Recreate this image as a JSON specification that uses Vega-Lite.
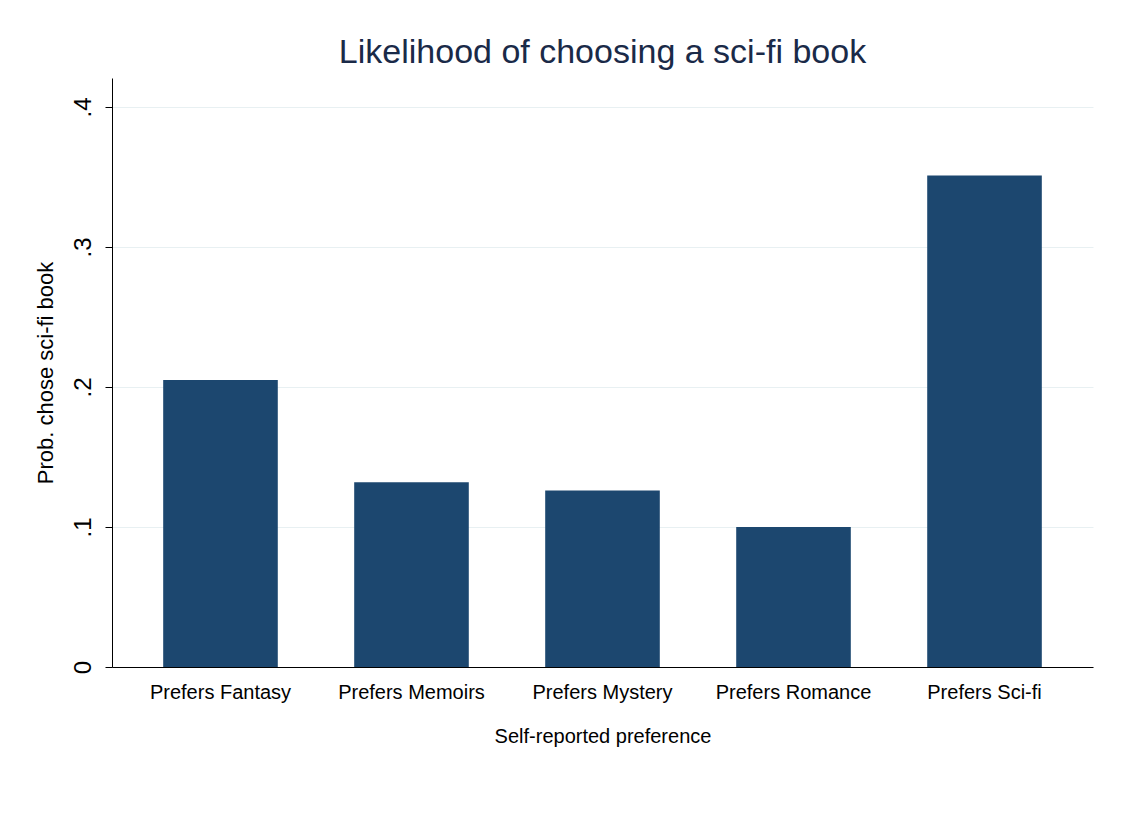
{
  "$schema": "https://vega.github.io/schema/vega-lite/v6.json",
  "autosize": {"type": "none"},
  "padding": {"left": 112, "top": 78, "right": 29, "bottom": 149},
  "width": 981,
  "height": 589,
  "background": "white",
  "title": {"text": "Likelihood of choosing a sci-fi book", "fontSize": 34, "font": "Arial, Liberation Sans", "fontWeight": "normal", "color": "#1a2a48", "offset": 8, "anchor": "middle"},
  "data": {"values": [
    {"pref": "Prefers Fantasy", "p": 0.205},
    {"pref": "Prefers Memoirs", "p": 0.132},
    {"pref": "Prefers Mystery", "p": 0.126},
    {"pref": "Prefers Romance", "p": 0.100},
    {"pref": "Prefers Sci-fi", "p": 0.351}
  ]},
  "mark": {"type": "bar", "color": "#1c476f"},
  "encoding": {
    "x": {"field": "pref", "type": "nominal", "title": "Self-reported preference",
      "scale": {"paddingInner": 0.4, "paddingOuter": 0.268},
      "axis": {"labelAngle": 0, "labelFontSize": 20, "titleFontSize": 20, "labelPadding": 15, "titlePadding": 24, "tickSize": 0, "domainColor": "black"}},
    "y": {"field": "p", "type": "quantitative", "title": "Prob. chose sci-fi book",
      "scale": {"domain": [0, 0.4207], "nice": false},
      "axis": {"values": [0, 0.1, 0.2, 0.3, 0.4], "labelExpr": "datum.value == 0 ? '0' : replace(format(datum.value, '.1f'), '0.', '.')",
        "labelAngle": -90, "labelAlign": "center", "labelBaseline": "bottom", "labelFontSize": 24, "titleFontSize": 22, "titlePadding": 14, "labelPadding": 10,
        "tickSize": 7, "tickColor": "black", "domainColor": "black", "grid": true, "gridColor": "#e8f0f2"}}
  },
  "config": {
    "font": "Arial, Liberation Sans",
    "view": {"stroke": null},
    "axis": {"labelColor": "black", "titleColor": "black", "titleFontWeight": "normal", "labelFont": "Arial, Liberation Sans", "titleFont": "Arial, Liberation Sans"}
  }
}
